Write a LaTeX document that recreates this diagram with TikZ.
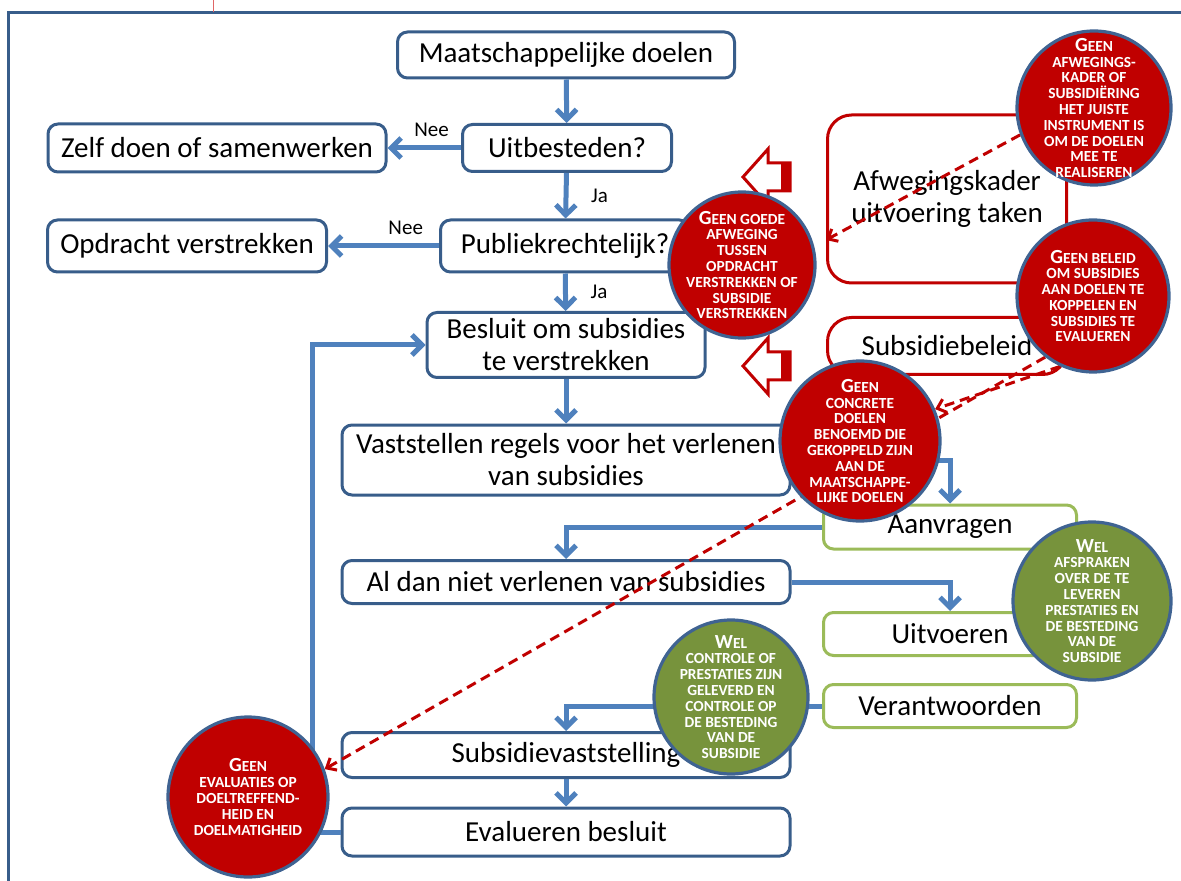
\documentclass[tikz,border=0pt]{standalone}
\usepackage{fontspec}
\setmainfont{Carlito}
\definecolor{boxBlue}{HTML}{385D8A}
\definecolor{flowBlue}{HTML}{4F81BD}
\definecolor{boxGreen}{HTML}{9BBB59}
\definecolor{boxRed}{HTML}{C00000}
\definecolor{circGreen}{HTML}{77933C}
\definecolor{circEdge}{HTML}{3F6392}
\definecolor{pageRed}{HTML}{E06666}
\usetikzlibrary{arrows.meta}
\pgfdeclarelayer{front}
\pgfsetlayers{main,front}
\newcommand{\firstcap}[1]{{\fontsize{10}{8}\selectfont #1}}

\begin{document}
\begin{tikzpicture}[x=0.5pt, y=-0.5pt,
  bluebox/.style={draw=boxBlue, line width=1.5pt, rounded corners=5pt, fill=white, align=center, inner sep=0pt, font=\fontsize{14.5}{16}\selectfont},
  greenbox/.style={bluebox, draw=boxGreen},
  redbox/.style={bluebox, draw=boxRed, rounded corners=12pt},
  flow/.style={draw=flowBlue, line width=2.5pt, -{Straight Barb[length=5pt,width=10pt]}},
  lab/.style={font=\fontsize{10.5}{12}\selectfont},
  warn/.style={draw=boxRed, line width=1.5pt, dash pattern=on 5pt off 3pt, -{Straight Barb[length=4pt,width=7pt]}},
  geen/.style={circle, draw=circEdge, line width=1.6pt, fill=boxRed, inner sep=0pt},
  wel/.style={geen, fill=circGreen},
  memo/.style={text=white, align=center, font=\bfseries\fontsize{7.7}{7.9}\selectfont, inner sep=0pt},
  blockarrow/.style={draw=boxRed, line width=1.5pt, fill=white, line join=miter}]
\useasboundingbox (0,0) rectangle (1181,881);

% page frame
\draw[boxBlue, line width=1.5pt] (8,881) -- (8,13) -- (1181,13);
\draw[pageRed, line width=0.5pt] (213,0) -- (213,12);

% main chain
\node[bluebox, minimum width=168.5pt, minimum height=23pt] (maat) at (566,55) {Maatschappelijke doelen};
\node[bluebox, minimum width=104.5pt, minimum height=23.5pt] (uitb) at (567,148) {Uitbesteden?};
\node[bluebox, minimum width=169pt, minimum height=24pt] (zelf) at (217,148) {Zelf doen of samenwerken};
\node[bluebox, minimum width=124.5pt, minimum height=26pt] (publ) at (565,246) {Publiekrechtelijk?};
\node[bluebox, minimum width=139.5pt, minimum height=26pt] (opdr) at (187,246) {Opdracht verstrekken};
\node[bluebox, minimum width=139pt, minimum height=32.5pt] (besl) at (566,345) {Besluit om subsidies\\te verstrekken};
\node[bluebox, minimum width=224pt, minimum height=35pt] (vast) at (566,460) {Vaststellen regels voor het verlenen\\van subsidies};
\node[bluebox, minimum width=224pt, minimum height=21.5pt] (aldan) at (566,582) {Al dan niet verlenen van subsidies};
\node[bluebox, minimum width=224pt, minimum height=22.5pt] (subv) at (566,755) {Subsidievaststelling};
\node[bluebox, minimum width=224pt, minimum height=24pt] (eval) at (566,832) {Evalueren besluit};

% applicant side
\node[greenbox, minimum width=126.5pt, minimum height=22pt] (aanv) at (950,527) {Aanvragen};
\node[greenbox, minimum width=126.5pt, minimum height=21.5pt] (uitv) at (950,634) {Uitvoeren};
\node[greenbox, minimum width=126.5pt, minimum height=21.5pt] (verant) at (950,706) {Verantwoorden};

% policy frames
\node[redbox, minimum width=119.5pt, minimum height=84pt] (afweg) at (947,199) {Afwegingskader\\uitvoering taken};
\node[redbox, minimum width=119.5pt, minimum height=28.5pt] (sbel) at (947,346) {Subsidiebeleid};

% flow
\draw[flow] (maat) -- (uitb);
\draw[flow] (uitb) -- node[lab, above=1pt, pos=0.4] {Nee} (zelf);
\draw[flow] (uitb) -- node[lab, right=8pt] {Ja} (publ);
\draw[flow] (publ) -- node[lab, above=1pt, pos=0.3] {Nee} (opdr);
\draw[flow] (publ) -- node[lab, right=8pt] {Ja} (besl);
\draw[flow] (besl) -- (vast);
\draw[flow] (vast.east) -| (aanv.north);
\draw[flow] (aanv.west) -| (aldan.north);
\draw[flow] (aldan.east) -| (uitv.north);
\draw[flow] (verant.west) -| (subv.north);
\draw[flow] (subv) -- (eval);
\draw[flow] (eval.west) -- ++(-28,0) |- (besl.west);

% hollow block arrows
\foreach \y in {177,366} {
  \draw[blockarrow] (743,\y) -- (768,\y-28) -- (768,\y-14) -- (790,\y-14) -- (790,\y+14) -- (768,\y+14) -- (768,\y+28) -- cycle;
  \fill[boxRed] (781,\y-14) rectangle (790,\y+14);
}

% remarks
\begin{pgfonlayer}{front}
\node[geen, minimum size=77pt] (c1) at (1094,108) {};
\node[memo] (c1t) at (c1) {\firstcap{G}EEN\\AFWEGINGS-\\KADER OF\\SUBSIDIËRING\\HET JUISTE\\INSTRUMENT IS\\OM DE DOELEN\\MEE TE\\REALISEREN};
\node[geen, minimum size=73pt] (c2) at (742,265) {};
\node[memo] (c2t) at (c2) {\firstcap{G}EEN GOEDE\\AFWEGING\\TUSSEN\\OPDRACHT\\VERSTREKKEN OF\\SUBSIDIE\\VERSTREKKEN};
\node[geen, minimum size=76pt] (c3) at (1093,296) {};
\node[memo] (c3t) at (c3) {\firstcap{G}EEN BELEID\\OM SUBSIDIES\\AAN DOELEN TE\\KOPPELEN EN\\SUBSIDIES TE\\EVALUEREN};
\node[geen, minimum size=80pt] (c4) at (860,441) {};
\node[memo] (c4t) at (c4) {\firstcap{G}EEN\\CONCRETE\\DOELEN\\BENOEMD DIE\\GEKOPPELD ZIJN\\AAN DE\\MAATSCHAPPE-\\LIJKE DOELEN};
\node[wel, minimum size=79pt] (c5) at (1092,601) {};
\node[memo] (c5t) at (c5) {\firstcap{W}EL\\AFSPRAKEN\\OVER DE TE\\LEVEREN\\PRESTATIES EN\\DE BESTEDING\\VAN DE\\SUBSIDIE};
\node[wel, minimum size=77pt] (c6) at (731,697) {};
\node[memo] (c6t) at (c6) {\firstcap{W}EL\\CONTROLE OF\\PRESTATIES ZIJN\\GELEVERD EN\\CONTROLE OP\\DE BESTEDING\\VAN DE\\SUBSIDIE};
\node[geen, minimum size=80pt] (c7) at (248,797) {};
\node[memo] (c7t) at (c7) {\firstcap{G}EEN\\EVALUATIES OP\\DOELTREFFEND-\\HEID EN\\DOELMATIGHEID};
\end{pgfonlayer}

% dashed links
\draw[warn] (c1.200) -- ([yshift=-20.5pt]afweg.west);
\draw[warn] (c3.245) -- (c4.23);
\draw[warn] (c3.232) -- (c7.20);
\end{tikzpicture}
\end{document}
